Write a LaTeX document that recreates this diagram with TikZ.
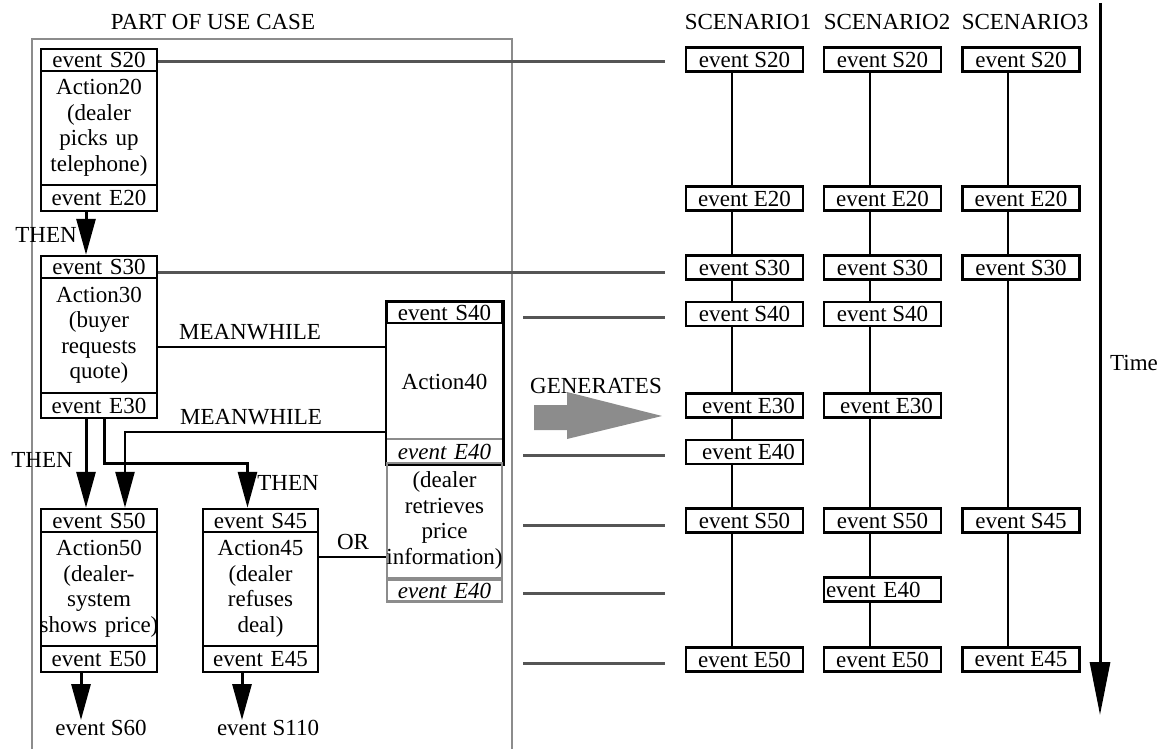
\documentclass[tikz,border=0pt]{standalone}
\usepackage{fontspec}
\setmainfont{Liberation Serif}
\usetikzlibrary{arrows.meta,calc}
\definecolor{frame}{HTML}{8C8C8C}
\definecolor{dash}{HTML}{555555}
\begin{document}
\begin{tikzpicture}[x=1pt,y=-1pt,
  every node/.style={font=\fontsize{23}{25.5}\selectfont, inner sep=0pt},
  ubox/.style={draw=black, line width=2.5pt, minimum width=116pt, text width=114pt, align=center},
  sbox/.style={draw=black, line width=2.5pt, minimum width=117pt, minimum height=24pt},
  gbox/.style={draw=frame, line width=2.5pt, minimum width=115pt, text width=114pt, align=center},
  bigarr/.style={line width=3pt, -{Triangle[length=36pt,width=19pt]}},
  link/.style={line width=2.5pt, draw=black},
  glink/.style={line width=3pt, draw=dash},
  vline/.style={line width=2.5pt, draw=black}]
\useasboundingbox (0,0) rectangle (1164,749);

% frame of the use case
\draw[draw=frame, line width=2.5pt] (32,756) -- (32,39) -- (512,39) -- (512,756);
\node (tuc) at (213,22) {PART OF USE CASE};

% left column
\node[ubox, minimum height=22pt] (S20l) at (99,60) {event S20};
\node[ubox, minimum height=114pt] (A20) at (99,128) {Action20\\(dealer\\picks up\\telephone)};
\node[ubox, minimum height=26pt] (E20l) at (99,198) {event E20};
\node[ubox, minimum height=22pt] (S30l) at (99,267) {event S30};
\node[ubox, minimum height=115pt] (A30) at (99,335.5) {Action30\\(buyer\\requests\\quote)};
\node[ubox, minimum height=25pt] (E30l) at (99,405.5) {event E30};
\node[ubox, minimum height=23pt] (S50l) at (99,520.5) {event S50};
\node[ubox, minimum height=114pt] (A50) at (99,589) {Action50\\(dealer-\\system\\\makebox[114pt]{shows price)}};
\node[ubox, minimum height=26pt] (E50l) at (99,659) {event E50};
\node (S60) at (101,728) {event S60};

% second column
\node[ubox, minimum width=115pt, minimum height=23pt] (S45l) at (260.5,520.5) {event S45};
\node[ubox, minimum width=115pt, minimum height=114pt] (A45) at (260.5,589) {Action45\\(dealer\\refuses\\deal)};
\node[ubox, minimum width=115pt, minimum height=26pt] (E45l) at (260.5,659) {event E45};
\node (S110) at (268,728) {event S110};

% Action40 column
\node[ubox, minimum width=115pt, minimum height=21pt] (S40l) at (444.5,312.5) {event S40};
\node[ubox, draw=none, minimum width=115pt, minimum height=117pt] (A40) at (444.5,381.5) {Action40};
\node[ubox, draw=none, minimum width=115pt, minimum height=23pt] (E40l) at (444.5,451.5) {\itshape event E40};
\draw[link] (S40l.north west) rectangle (E40l.south east);
\draw[draw=frame, line width=2.5pt] ([xshift=1.3pt]E40l.north west) -- ([xshift=-1.3pt]E40l.north east);
\node[gbox, minimum height=115pt] (R40) at (444.5,520.5) {(dealer\\retrieves\\price\\\makebox[114pt]{information)}};
\node[gbox, minimum height=22pt] (E40m) at (444.5,590.5) {\itshape event E40};

% arrows and connectors in the use case
\draw[bigarr] ([xshift=-13pt]E20l.south) -- ([xshift=-13pt]S30l.north);
\node (then1) at (46,235) {THEN};
\draw[link] (A30.east |- 0,347) -- (A40.west |- 0,347);
\node (mw1) at (250,332) {MEANWHILE};
\draw[bigarr, line width=2.6pt] (A40.west |- 0,432) -| ([xshift=26pt]S50l.north);
\node (mw2) at (251,417) {MEANWHILE};
\draw[bigarr] ([xshift=-13pt]E30l.south) -- ([xshift=-13pt]S50l.north);
\node (then2) at (42,460) {THEN};
\draw[bigarr] ([xshift=5pt]E30l.south) -- ++(0,44) -| ([xshift=-13pt]S45l.north);
\node (then3) at (288,483) {THEN};
\draw[link] (A45.east |- 0,557) -- (R40.west |- 0,557);
\node (or) at (353,542) {OR};
\draw[bigarr] ([xshift=-18pt]E50l.south) -- (S60.north -| 81,0);
\draw[bigarr] ([xshift=-18.5pt]E45l.south) -- (S110.north -| 242,0);

% generates arrow
\node (gen) at (596,386) {GENERATES};
\fill[frame] (534,405) -- (567,405) -- (567,392) -- (662,416) -- (567,439) -- (567,430) -- (534,430) -- cycle;

% link lines to scenarios
\coordinate (d20) at (665,62);
\coordinate (d30) at (665,272);
\draw[glink] (S20l.east |- 0,62) -- (d20);
\draw[glink] (S30l.east |- 0,272) -- (d30);
\foreach \yy/\nm in {317/a,455/b,525/c,593/d,663/e}{
  \coordinate (l\nm) at (523,\yy);
  \coordinate (r\nm) at (665,\yy);
  \draw[glink] (l\nm) -- (r\nm);
}

% scenario titles
\node (sc1) at (748,22) {SCENARIO1};
\node (sc2) at (887,22) {SCENARIO2};
\node (sc3) at (1025,22) {SCENARIO3};

% scenario 1
\node[sbox] (a1) at (744.5,59.5) {event S20};
\node[sbox] (a2) at (744.5,198.5) {event E20};
\node[sbox] (a3) at (744.5,267.5) {event S30};
\node[sbox] (a4) at (744.5,314) {event S40};
\node[sbox] (a5) at (744.5,405.5) {\hspace*{8pt}event E30};
\node[sbox] (a6) at (744.5,452) {\hspace*{8pt}event E40};
\node[sbox] (a7) at (744.5,520.5) {event S50};
\node[sbox] (a8) at (744.5,659.5) {event E50};
\foreach \p/\q in {a1/a2,a2/a3,a3/a4,a4/a5,a5/a6,a6/a7,a7/a8}{
  \draw[vline] ([xshift=-12.5pt]\p.south) -- ([xshift=-12.5pt]\q.north);
}

% scenario 2
\node[sbox] (b1) at (882.5,59.5) {event S20};
\node[sbox] (b2) at (882.5,198.5) {event E20};
\node[sbox] (b3) at (882.5,267.5) {event S30};
\node[sbox] (b4) at (882.5,314) {event S40};
\node[sbox] (b5) at (882.5,405.5) {\hspace*{8pt}event E30};
\node[sbox] (b6) at (882.5,520.5) {event S50};
\node[sbox, text width=113pt, inner xsep=2pt, align=left] (b7) at (882.5,589.5) {event E40};
\node[sbox] (b8) at (882.5,659.5) {event E50};
\foreach \p/\q in {b1/b2,b2/b3,b3/b4,b4/b5,b5/b6,b6/b7,b7/b8}{
  \draw[vline] ([xshift=-12.5pt]\p.south) -- ([xshift=-12.5pt]\q.north);
}

% scenario 3
\node[sbox] (c1) at (1021,59.5) {event S20};
\node[sbox] (c2) at (1021,198.5) {event E20};
\node[sbox] (c3) at (1021,267.5) {event S30};
\node[sbox] (c4) at (1021,520.5) {event S45};
\node[sbox] (c5) at (1021,659.5) {event E45};
\foreach \p/\q in {c1/c2,c2/c3,c3/c4,c4/c5}{
  \draw[vline] ([xshift=-13pt]\p.south) -- ([xshift=-13pt]\q.north);
}

% time axis
\coordinate (t0) at (1100,3);
\coordinate (t1) at (1100,715);
\draw[line width=3pt, -{Triangle[length=53pt,width=20pt]}] (t0) -- (t1);
\node (time) at (1134,363) {Time};
\end{tikzpicture}
\end{document}
